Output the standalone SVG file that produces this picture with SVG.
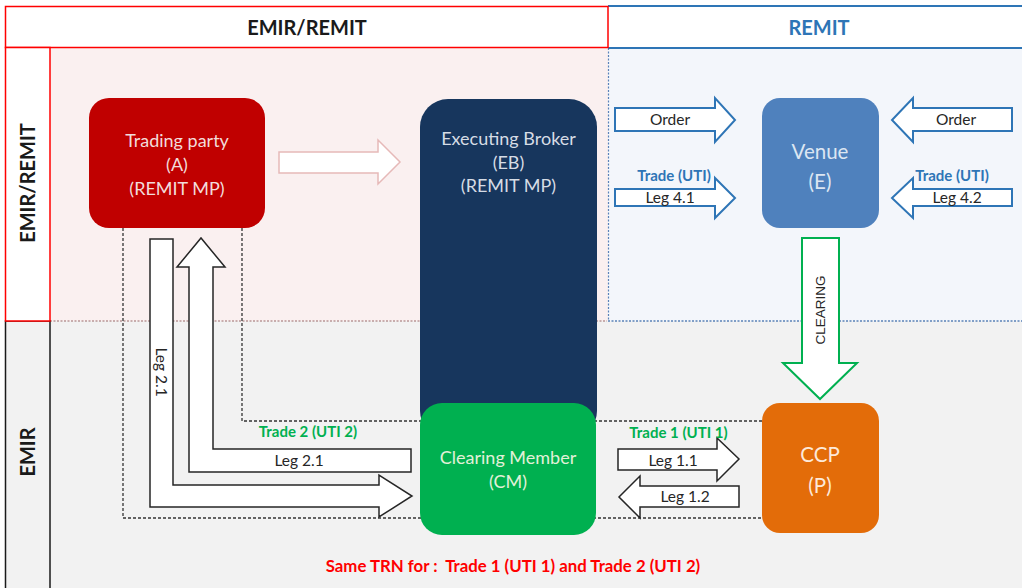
<svg xmlns="http://www.w3.org/2000/svg" width="1022" height="588" viewBox="0 0 1022 588">
  <style>
    .hd { font-family: Lato, "Liberation Sans", sans-serif; font-weight: bold; font-size: 20px; text-anchor: middle; }
    .nd { font-family: Lato, "Liberation Sans", sans-serif; font-size: 18px; text-anchor: middle; }
    .big { font-size: 20.5px; }
    .lbl { font-family: Lato, "Liberation Sans", sans-serif; font-size: 15.5px; text-anchor: middle; fill: #262626; }
    .tr { font-family: Lato, "Liberation Sans", sans-serif; font-size: 15px; font-weight: bold; text-anchor: middle; }
    .blk { fill: #ffffff; stroke: #262626; stroke-width: 1.5; stroke-linejoin: miter; }
    .blu { fill: #ffffff; stroke: #2e75b6; stroke-width: 2; }
    .dash { fill: none; stroke: #333333; stroke-width: 1.3; stroke-dasharray: 3 2; }
  </style>

  <g id="background">
    <rect x="0" y="0" width="1022" height="588" fill="#ffffff"/>
    <rect x="50" y="47" width="558" height="274" fill="#faf0f0"/>
    <rect x="608" y="48" width="414" height="273" fill="#f3f6fb"/>
    <rect x="50" y="321" width="972" height="267" fill="#f2f2f2"/>
    <line x1="50" y1="321" x2="607" y2="321" stroke="#9a6a6a" stroke-width="1.2" stroke-dasharray="2 1.5"/>
    <line x1="608" y1="321" x2="1022" y2="321" stroke="#5b82b8" stroke-width="1.5" stroke-dasharray="2 1.5"/>
    <line x1="608.5" y1="48" x2="608.5" y2="321" stroke="#5b82b8" stroke-width="1.2" stroke-dasharray="2 1.5"/>
    <line x1="608" y1="6" x2="1022" y2="6" stroke="#2e75b6" stroke-width="2"/>
    <line x1="608" y1="48" x2="1022" y2="48" stroke="#2e75b6" stroke-width="2"/>
    <rect x="5.5" y="6.5" width="602.5" height="41" fill="#ffffff" stroke="#ff0000" stroke-width="1.5"/>
    <text class="hd" x="307" y="35" fill="#1a1a1a">EMIR/REMIT</text>
    <text class="hd" x="819" y="35" fill="#2e75b6">REMIT</text>
    <rect x="5.5" y="321" width="44.5" height="270" fill="#f2f2f2" stroke="#1a1a1a" stroke-width="1.5"/>
    <rect x="5.5" y="47.5" width="44.5" height="273.5" fill="#ffffff" stroke="#ff0000" stroke-width="1.5"/>
    <text class="hd" transform="translate(28,183) rotate(-90)" x="0" y="7" fill="#1a1a1a">EMIR/REMIT</text>
    <text class="hd" transform="translate(28,452) rotate(-90)" x="0" y="7" fill="#1a1a1a">EMIR</text>
  </g>

  <g id="connectors">
    <polyline class="dash" points="123,228 123,518 763,518"/>
    <polyline class="dash" points="242,228 242,421 763,421"/>
  </g>

  <g id="node-executing-broker">
    <rect x="420" y="99" width="177" height="340" rx="28" fill="#17365d"/>
    <text class="nd" x="508.5" y="145" fill="#d6dce5">Executing Broker</text>
    <text class="nd" x="508.5" y="169" fill="#d6dce5">(EB)</text>
    <text class="nd" x="508.5" y="192" fill="#d6dce5">(REMIT MP)</text>
  </g>

  <g id="node-trading-party">
    <rect x="89" y="98" width="176" height="130" rx="20" fill="#c00000"/>
    <text class="nd" x="177" y="147" fill="#f2dcdb">Trading party</text>
    <text class="nd" x="177" y="171" fill="#f2dcdb">(A)</text>
    <text class="nd" x="177" y="195" fill="#f2dcdb">(REMIT MP)</text>
  </g>

  <g id="node-clearing-member">
    <rect x="420" y="403" width="176" height="132" rx="22" fill="#00b050"/>
    <text class="nd" x="508" y="464" fill="#e2f0d9">Clearing Member</text>
    <text class="nd" x="508" y="488" fill="#e2f0d9">(CM)</text>
  </g>

  <g id="node-venue">
    <rect x="762" y="98" width="117" height="130" rx="18" fill="#4f81bd"/>
    <text class="nd big" x="820" y="159" fill="#dce6f2">Venue</text>
    <text class="nd big" x="820" y="189" fill="#dce6f2">(E)</text>
  </g>

  <g id="node-ccp">
    <rect x="762" y="403" width="117" height="130" rx="18" fill="#e36c09"/>
    <text class="nd big" x="820" y="462" fill="#fde9d9">CCP</text>
    <text class="nd big" x="820" y="493" fill="#fde9d9">(P)</text>
  </g>

  <g id="arrows">
    <polygon points="279,152 378,152 378,140 400,162 378,184 378,173 279,173" fill="#ffffff" stroke="#e6b9b8" stroke-width="1.5"/>

    <polygon class="blu" points="615,108 715,108 715,98 735,120 715,142 715,131 615,131"/>
    <text class="lbl" x="670" y="125">Order</text>
    <polygon class="blu" points="615,189 715,189 715,178 735,198 715,218 715,206 615,206"/>
    <text class="lbl" x="670" y="203">Leg 4.1</text>
    <text class="tr" x="674" y="181" fill="#2e75b6">Trade (UTI)</text>

    <polygon class="blu" points="1012,108 913,108 913,98 892,120 913,142 913,131 1012,131"/>
    <text class="lbl" x="956" y="125">Order</text>
    <polygon class="blu" points="1012,189 913,189 913,178 892,198 913,218 913,206 1012,206"/>
    <text class="lbl" x="957" y="203">Leg 4.2</text>
    <text class="tr" x="952" y="181" fill="#2e75b6">Trade (UTI)</text>

    <polygon points="802,238 839,238 839,363 857,363 820,399 783,363 802,363" fill="#ffffff" stroke="#00b050" stroke-width="2"/>
    <text transform="translate(820,310) rotate(-90)" x="0" y="5" font-family="'Liberation Sans', Arial, sans-serif" font-size="13.5" text-anchor="middle" fill="#262626">CLEARING</text>

    <polygon class="blk" points="618,449 717,449 717,438 739,459 717,481 717,470 618,470"/>
    <text class="lbl" x="673" y="466">Leg 1.1</text>
    <polygon class="blk" points="739,486 640,486 640,476 619,497 640,518 640,507 739,507"/>
    <text class="lbl" x="685" y="502">Leg 1.2</text>
    <text class="tr" x="678.5" y="438" fill="#00b050">Trade 1 (UTI 1)</text>

    <polygon class="blk" points="150,239 173,239 173,485 379,485 379,475 412,496 379,517 379,507 150,507"/>
    <text class="lbl" transform="translate(161,372) rotate(90)" x="0" y="5">Leg 2.1</text>
    <polygon class="blk" points="411,449 213,449 213,267 225,267 201,238 177,267 189,267 189,472 411,472"/>
    <text class="lbl" x="299" y="466">Leg 2.1</text>
    <text class="tr" x="308" y="437" fill="#00b050">Trade 2 (UTI 2)</text>
  </g>

  <text x="513" y="572" font-family="Lato, 'Liberation Sans', sans-serif" font-size="16.8" font-weight="bold" text-anchor="middle" fill="#ff0000" xml:space="preserve">Same TRN for :  Trade 1 (UTI 1) and Trade 2 (UTI 2)</text>
</svg>
